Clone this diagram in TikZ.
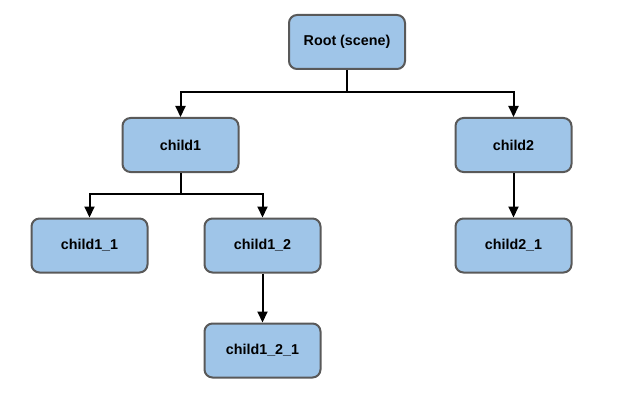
\documentclass[tikz,border=0pt]{standalone}
\usepackage{fontspec}
\setmainfont{Liberation Sans}
\usetikzlibrary{arrows.meta}
\definecolor{boxfill}{HTML}{9FC5E8}
\definecolor{boxline}{HTML}{595959}
\begin{document}
\begin{tikzpicture}[x=1pt,y=-1pt,
  box/.style={draw=boxline, fill=boxfill, line width=2pt, rounded corners=8pt,
    minimum width=116pt, minimum height=54pt, inner sep=0pt,
    font=\fontsize{14.3}{16}\selectfont\bfseries},
  conn/.style={line width=2pt, -{Triangle[length=11pt,width=10pt]}},
  line/.style={line width=2pt}]
\useasboundingbox (0,0) rectangle (629,401);
\node[box] (root) at (347,42) {Root (scene)};
\node[box] (c1) at (180.5,145) {child1};
\node[box] (c2) at (513.5,145) {child2};
\node[box] (c11) at (89.5,245.5) {child1\_1};
\node[box] (c12) at (262.5,245.5) {child1\_2};
\node[box] (c121) at (262.5,350.5) {child1\_2\_1};
\node[box] (c21) at (513.5,245.5) {child2\_1};
\coordinate (j0) at (347,92);
\coordinate (j1) at (180.5,194);
\draw[line] (root.south) -- (j0);
\draw[conn] (j0) -| (c1.north);
\draw[conn] (j0) -| (c2.north);
\draw[line] (c1.south) -- (j1);
\draw[conn] (j1) -| (c11.north);
\draw[conn] (j1) -| (c12.north);
\draw[conn] (c12.south) -- (c121.north);
\draw[conn] (c2.south) -- (c21.north);
\end{tikzpicture}
\end{document}
